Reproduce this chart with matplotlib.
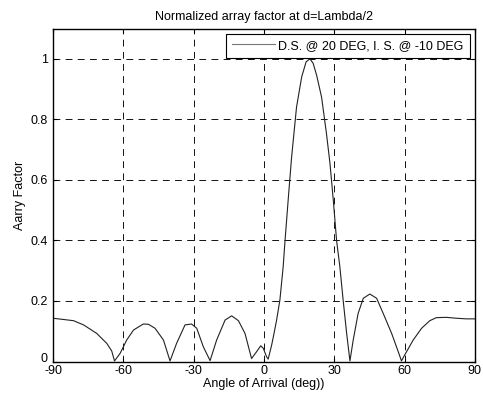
import numpy as np
import matplotlib
matplotlib.use("Agg")
import matplotlib.pyplot as plt
from matplotlib.transforms import ScaledTranslation

plt.rcParams['font.family'] = ['Liberation Sans', 'DejaVu Sans']

# values
angle = [-90, -81.3, -77, -71.4, -67.1, -65.0, -63.8, -61.4, -58.6, -55.7, -51.5, -49.3,
         -46.5, -42.9, -40.1, -37.3, -33.7, -30.9, -28.7, -25.9, -23.0, -20.2, -16.6,
         -13.8, -10.9, -8.1, -5.3, -3.1, -1.4, -0.3, 1.1, 1.8, 3.3, 4.3, 5.4, 6.8,
         8.2, 9.0, 10.4, 11.8, 13.9, 16.1, 18.0, 19.6, 21.0, 22.5, 24.6, 26.7, 28.2,
         29.6, 31.0, 32.4, 33.8, 35.3, 36.7, 38.1, 40.2, 42.4, 45.2, 48.1, 50.9, 54.5,
         57.3, 58.7, 60.1, 63.7, 67.3, 70.8, 73.6, 77.9, 82.2, 86.4, 90]
af = [0.143, 0.135, 0.121, 0.093, 0.060, 0.035, 0.002, 0.027, 0.071, 0.104, 0.124, 0.123,
      0.110, 0.071, 0.002, 0.060, 0.121, 0.124, 0.110, 0.049, 0.003, 0.071, 0.137,
      0.151, 0.135, 0.093, 0.010, 0.033, 0.052, 0.044, 0.016, 0.008, 0.055, 0.093, 0.137, 0.203,
      0.313, 0.40, 0.54, 0.675, 0.84, 0.94, 0.99, 1.0, 0.985, 0.945, 0.873, 0.752, 0.653,
      0.533, 0.40, 0.313, 0.203, 0.093, 0.002, 0.071, 0.159, 0.209, 0.223, 0.209, 0.159, 0.093,
      0.033, 0.002, 0.022, 0.071, 0.110, 0.135, 0.145, 0.146, 0.143, 0.141, 0.141]

xticks = [-90, -60, -30, 0, 30, 60, 90]
yticks = [0, 0.2, 0.4, 0.6, 0.8, 1]
ytick_labels = ['0', '0.2', '0.4', '0.6', '0.8', '1']

fig = plt.figure(figsize=(4.83, 3.96), dpi=100)
ax = fig.add_axes([0.110, 0.087, 0.873, 0.841])
ax.plot(angle, af, color='#222222', lw=0.8, label='D.S. @ 20 DEG, I. S. @ -10 DEG')
ax.set_xlim(-90, 90)
ax.set_ylim(0, 1.1)
ax.set_xticks(xticks)
ax.set_xticklabels([str(t) for t in xticks])
ax.set_yticks(yticks)
ax.set_yticklabels(ytick_labels)
ax.tick_params(direction='in', length=3, labelsize=9, top=True, right=True)
ax.tick_params(axis='x', pad=2.5)
ax.tick_params(axis='y', pad=4)
# lift the "0" a little so it clears the "-90" below it
lbl0 = ax.get_yticklabels()[0]
lbl0.set_transform(lbl0.get_transform() + ScaledTranslation(0, 3 / 72, fig.dpi_scale_trans))
ax.grid(True, color='#111111', linestyle=(0, (7, 5.5)), linewidth=0.7)
for s in ax.spines.values():
    s.set_linewidth(1.0)
ax.set_title('Normalized array factor at d=Lambda/2', fontsize=9, pad=6)
ax.set_xlabel('Angle of Arrival (deg))', fontsize=9, labelpad=1)
ax.set_ylabel('Aarry Factor', fontsize=9, labelpad=3)
leg = ax.legend(loc='upper right', fontsize=9, fancybox=False, framealpha=1,
                edgecolor='black', borderaxespad=0.4, handlelength=3.4,
                handletextpad=0.3, borderpad=0.5)
leg.get_frame().set_linewidth(0.8)
leg.get_lines()[0].set_color('#777777')

fig.savefig('out.png', dpi=100)
